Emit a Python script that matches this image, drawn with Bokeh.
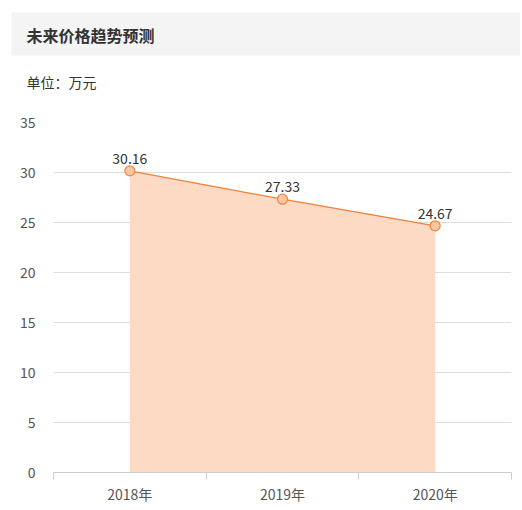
from bokeh.plotting import figure
from bokeh.layouts import column
from bokeh.models import ColumnDataSource, FixedTicker, Range1d, LabelSet
from bokeh.core.properties import value
from bokeh.embed import file_html
from bokeh.resources import INLINE

# ---- data ----
years = ["2018年", "2019年", "2020年"]
prices = [30.16, 27.33, 24.67]
price_labels = ["30.16", "27.33", "24.67"]
y_ticks = [0, 5, 10, 15, 20, 25, 30, 35]
title_text = "未来价格趋势预测"
unit_text = "单位：万元"

FONT = "Noto Sans CJK SC"
W = 520

# ---- header (band, title, unit) : pixel-space figure ----
HH = 106
h = figure(width=W, height=HH, output_backend="svg", toolbar_location=None,
           x_range=Range1d(0, W), y_range=Range1d(HH, 0),
           x_axis_location=None, y_axis_location=None, min_border=0)
h.outline_line_color = None
h.grid.visible = False
h.quad(left=[11], right=[W], top=[12], bottom=[55], fill_color="#f4f4f4", line_color=None)
h.text(x=[26], y=[34], text=[title_text], text_font=value(FONT), text_font_size="16px",
       text_font_style="bold", text_color="#333333", text_baseline="middle")
h.text(x=[26], y=[81], text=[unit_text], text_font=value(FONT), text_font_size="14px",
       text_color="#333333", text_baseline="middle")

# ---- chart ----
xpos = [i + 0.5 for i in range(len(years))]
src = ColumnDataSource(dict(x=xpos, y=prices, lab=price_labels, zero=[0] * len(prices)))

p = figure(width=W, height=508 - HH, output_backend="svg", toolbar_location=None,
           x_range=Range1d(0, 3), y_range=Range1d(0, 35),
           min_border_left=53, min_border_right=9, min_border_top=16, min_border_bottom=36)
p.outline_line_color = None
p.background_fill_color = "white"
p.border_fill_color = "white"

p.varea(x="x", y1="zero", y2="y", source=src, fill_color="#fddac4", fill_alpha=1.0)
p.line(x="x", y="y", source=src, line_color="#f08038", line_width=1.3)
p.scatter(x="x", y="y", source=src, size=10, fill_color="#fcc6a0", line_color="#ee8446",
          line_width=1.2)
p.add_layout(LabelSet(x="x", y="y", text="lab", source=src, y_offset=7,
                      text_align="center", text_baseline="bottom",
                      text_font=value(FONT), text_font_size="14px", text_color="#333333"))

p.xaxis.ticker = FixedTicker(ticks=xpos, minor_ticks=[0, 1, 2, 3])
p.xaxis.major_label_overrides = {x: y for x, y in zip(xpos, years)}
p.xaxis.major_tick_out = 0
p.xaxis.major_tick_in = 0
p.xaxis.minor_tick_out = 7
p.xaxis.minor_tick_in = 0
p.xaxis.minor_tick_line_color = "#cccccc"
p.xaxis.axis_line_color = "#cccccc"
p.xaxis.major_label_text_font = FONT
p.xaxis.major_label_text_font_size = "14px"
p.xaxis.major_label_text_color = "#555555"
p.xaxis.major_label_standoff = 4

p.yaxis.ticker = FixedTicker(ticks=y_ticks)
p.yaxis.axis_line_color = None
p.yaxis.major_tick_line_color = None
p.yaxis.minor_tick_line_color = None
p.yaxis.major_label_text_font = FONT
p.yaxis.major_label_text_font_size = "14px"
p.yaxis.major_label_text_color = "#555555"
p.yaxis.major_label_standoff = 12

p.xgrid.grid_line_color = None
p.ygrid.ticker = FixedTicker(ticks=y_ticks)
p.ygrid.grid_line_color = "#dddddd"

# keep the header figure from having its frame aligned to the chart's frame
try:
    h.frame_align = False
    p.frame_align = False
    layout = column(h, p, spacing=0)
except Exception:
    from bokeh.layouts import row
    layout = column(row(h), p, spacing=0)

open("out.html", "w").write(file_html(layout, INLINE))
